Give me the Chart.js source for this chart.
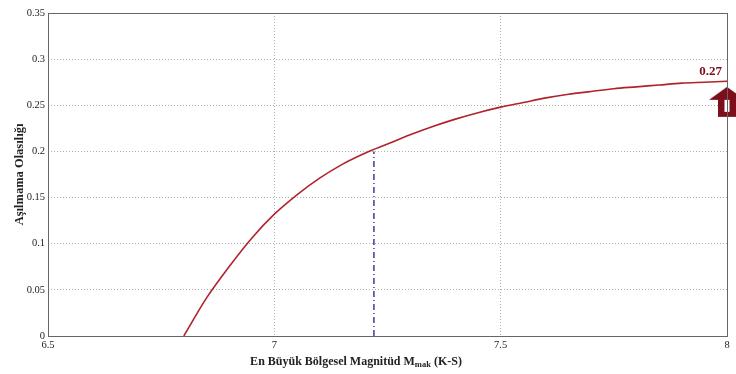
<!DOCTYPE html>
<html>
<head>
<meta charset="utf-8">
<script src="https://cdn.jsdelivr.net/npm/chart.js@4/dist/chart.umd.min.js"></script>
<style>
  html, body { margin: 0; padding: 0; background: #fff; }
  #wrap { width: 736px; height: 374px; }
</style>
</head>
<body>
<div id="wrap"><canvas id="prob-chart"></canvas></div>
<script>
// magnitude (x) and non-exceedance probability (y)
var magnitudes = [6.8, 6.85, 6.9, 6.95, 7.0, 7.05, 7.1, 7.15, 7.2, 7.25, 7.3, 7.35, 7.4,
  7.45, 7.5, 7.55, 7.6, 7.65, 7.7, 7.75, 7.8, 7.85, 7.9, 7.95, 8.0];
var probabilities = [0, 0.041, 0.075, 0.106, 0.132, 0.153, 0.171, 0.186, 0.198, 0.208,
  0.218, 0.227, 0.235, 0.242, 0.248, 0.253, 0.258, 0.262, 0.265, 0.268, 0.270, 0.272,
  0.274, 0.275, 0.276];
var guideX = 7.22, guideY = 0.2;   // dash-dot drop line
var peakX = 8, peakY = 0.27;       // arrow marker + value label
var serif = "'Liberation Serif', 'Times New Roman', serif";
var curveColor = "#b0232b";
var arrowColor = "#7d0f1c";

// up-arrow glyph, tip sits on the canvas centre so it points at the value
function makeArrow() {
  var c = document.createElement("canvas");
  c.width = 40; c.height = 62;
  var g = c.getContext("2d");
  g.fillStyle = arrowColor;
  g.beginPath();
  g.moveTo(20, 31);
  g.lineTo(38, 44);
  g.lineTo(29, 44);
  g.lineTo(29, 61);
  g.lineTo(11, 61);
  g.lineTo(11, 44);
  g.lineTo(2, 44);
  g.closePath();
  g.fill();
  g.fillStyle = "#fff";
  g.fillRect(17.5, 44, 5, 12);
  return c;
}

var curve = magnitudes.map(function (m, i) { return { x: m, y: probabilities[i] }; });

// closed box around the plot + value label + x title with subscript
var framePlugin = {
  id: "frame",
  afterDatasetsDraw: function (chart) {
    var ctx = chart.ctx, a = chart.chartArea;
    ctx.save();
    ctx.strokeStyle = "#666";
    ctx.lineWidth = 1;
    ctx.strokeRect(a.left + 0.5, a.top + 0.5, a.right - a.left, a.bottom - a.top);

    var pt = chart.getDatasetMeta(2).data[0];
    ctx.fillStyle = arrowColor;
    ctx.font = "bold 13px " + serif;
    ctx.textAlign = "right";
    ctx.textBaseline = "bottom";
    ctx.fillText(peakY.toFixed(2), pt.x - 5, pt.y - 9);
    ctx.restore();
  },
  afterDraw: function (chart) {
    var ctx = chart.ctx;
    var parts = [
      { t: "En Büyük Bölgesel Magnitüd M", f: "bold 12px " + serif, dy: 0 },
      { t: "mak", f: "bold 8.5px " + serif, dy: 2 },
      { t: " (K-S)", f: "bold 12px " + serif, dy: 0 }
    ];
    ctx.save();
    ctx.fillStyle = "#222";
    ctx.textBaseline = "alphabetic";
    ctx.textAlign = "left";
    var total = 0;
    parts.forEach(function (p) { ctx.font = p.f; p.w = ctx.measureText(p.t).width; total += p.w; });
    var x = 356 - total / 2, y = 365;
    parts.forEach(function (p) { ctx.font = p.f; ctx.fillText(p.t, x, y + p.dy); x += p.w; });
    ctx.restore();
  }
};

new Chart("prob-chart", {
  type: "line",
  data: {
    datasets: [
      {
        data: curve,
        borderColor: curveColor,
        borderWidth: 1.6,
        pointRadius: 0,
        cubicInterpolationMode: "monotone",
        fill: false,
      },
      {
        data: [{ x: guideX, y: 0 }, { x: guideX, y: guideY }],
        borderColor: "#1f1f8c",
        borderWidth: 1.3,
        borderDash: [6, 3, 1, 3],
        pointRadius: 0,
        fill: false,
      },
      {
        data: [{ x: peakX, y: peakY }],
        pointStyle: makeArrow(),
        pointRadius: 1,
        pointHoverRadius: 1,
        pointBorderWidth: 0,
        showLine: false,
        clip: false,
      },
    ],
  },
  options: {
    responsive: true,
    maintainAspectRatio: false,
    animation: false,
    layout: { padding: { top: 13, right: 9, left: 0, bottom: 0 } },
    plugins: {
      legend: { display: false },
      tooltip: { enabled: false },
    },
    scales: {
      x: {
        type: "linear",
        min: 6.5,
        max: 8,
        afterFit: function (s) { s.height = 38; },
        ticks: {
          stepSize: 0.5,
          padding: 3,
          color: "#222",
          font: { family: serif, size: 10.5 },
          callback: function (v) { return String(+v.toFixed(2)); },
        },
        grid: { color: "#b0b0b0", lineWidth: 1, drawTicks: false },
        border: { display: false, dash: [1, 2] },
      },
      y: {
        min: 0,
        max: 0.35,
        afterFit: function (s) { s.width = 48; },
        ticks: {
          stepSize: 0.05,
          padding: 3,
          color: "#222",
          font: { family: serif, size: 10.5 },
          callback: function (v) { return String(+v.toFixed(2)); },
        },
        title: {
          display: true,
          text: "Aşılmama Olasılığı",
          color: "#222",
          font: { family: serif, size: 12.5, weight: "bold" },
          padding: { top: 12, bottom: 0 },
        },
        grid: { color: "#b0b0b0", lineWidth: 1, drawTicks: false },
        border: { display: false, dash: [1, 2] },
      },
    },
  },
  plugins: [framePlugin],
});
</script>
</body>
</html>
